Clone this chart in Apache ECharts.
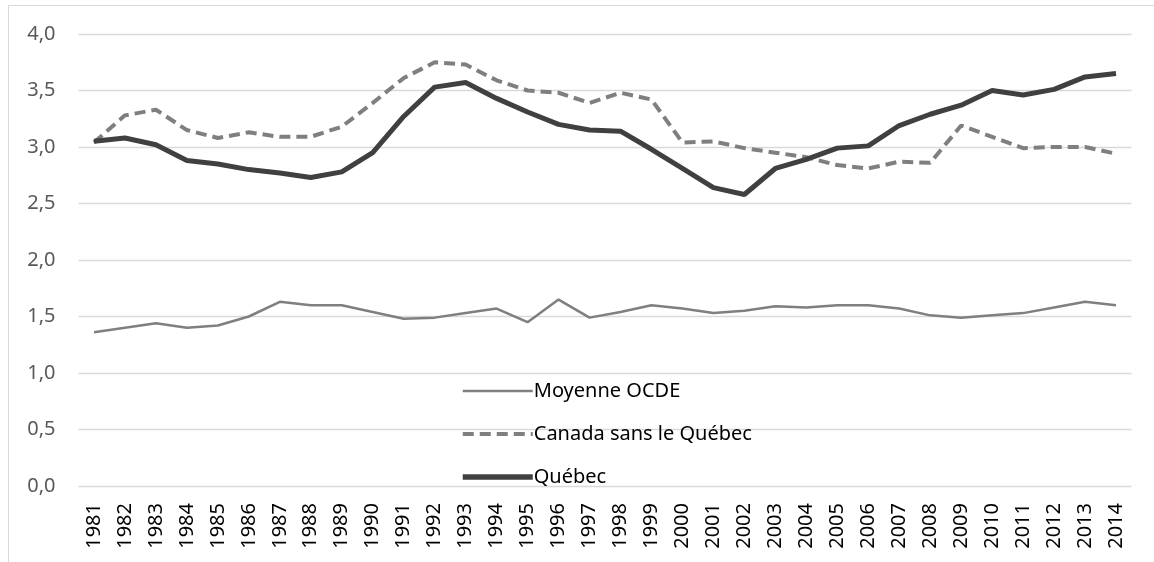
<!DOCTYPE html>
<html><head><meta charset="utf-8">
<script src="https://cdn.jsdelivr.net/npm/echarts@6/dist/echarts.min.js"></script>
<style>
html,body{margin:0;padding:0;background:#fff;overflow:hidden;}
#frame{position:absolute;left:8px;top:5px;width:1200px;height:600px;border:1px solid #d9d9d9;}
#c{position:absolute;left:0;top:0;width:1154px;height:562px;}
</style></head>
<body><div id="frame"></div><div id="c"></div>
<script>
const years = ['1981','1982','1983','1984','1985','1986','1987','1988','1989','1990','1991','1992','1993','1994','1995','1996','1997','1998','1999','2000','2001','2002','2003','2004','2005','2006','2007','2008','2009','2010','2011','2012','2013','2014'];
const ocde = [1.36,1.40,1.44,1.40,1.42,1.50,1.63,1.60,1.60,1.54,1.48,1.49,1.53,1.57,1.45,1.65,1.49,1.54,1.60,1.57,1.53,1.55,1.59,1.58,1.60,1.60,1.57,1.51,1.49,1.51,1.53,1.58,1.63,1.60];
const canada = [3.04,3.28,3.33,3.15,3.08,3.13,3.09,3.09,3.18,3.39,3.61,3.75,3.73,3.59,3.50,3.48,3.39,3.48,3.42,3.04,3.05,2.99,2.95,2.91,2.84,2.81,2.87,2.86,3.19,3.09,2.99,3.00,3.00,2.94];
const quebec = [3.05,3.08,3.02,2.88,2.85,2.80,2.77,2.73,2.78,2.95,3.27,3.53,3.57,3.43,3.31,3.20,3.15,3.14,2.98,2.81,2.64,2.58,2.81,2.89,2.99,3.01,3.19,3.29,3.37,3.50,3.46,3.51,3.62,3.65];
const seriesNames = ['Moyenne OCDE','Canada sans le Québec','Québec'];

const chart = echarts.init(document.getElementById('c'));
const font = '"Noto Sans", "Open Sans", sans-serif';
chart.setOption({
  animation:false,
  textStyle:{fontFamily:font},
  grid:{left:78.5,right:22.5,top:34,bottom:76,containLabel:false},
  legend:{
    orient:'vertical', left:455, top:376, itemWidth:70, itemHeight:20, itemGap:23,
    itemStyle:{opacity:0},
    textStyle:{fontSize:20,color:'#000',fontFamily:font,padding:[0,0,0,-4]},
    data:[
      {name:seriesNames[0], lineStyle:{width:2.5,color:'#7f7f7f'}},
      {name:seriesNames[1], lineStyle:{width:4,color:'#7f7f7f',type:[11,6]}},
      {name:seriesNames[2], lineStyle:{width:5.5,color:'#404040'}}
    ]
  },
  xAxis:{
    type:'category', data:years, boundaryGap:true,
    axisLine:{show:false}, axisTick:{show:false},
    axisLabel:{rotate:90,fontSize:20,color:'#000',margin:17,interval:0,fontFamily:font}
  },
  yAxis:{
    type:'value', min:0, max:4, interval:0.5,
    axisLine:{show:false}, axisTick:{show:false},
    splitLine:{lineStyle:{color:'#d9d9d9',width:1.3}},
    axisLabel:{fontSize:20,color:'#595959',margin:23,fontFamily:font,
      formatter:v=>v.toFixed(1).replace('.',',')}
  },
  series:[
    {name:seriesNames[0],type:'line',data:ocde,symbol:'none',
      lineStyle:{color:'#7f7f7f',width:2.5},itemStyle:{color:'#7f7f7f'}},
    {name:seriesNames[1],type:'line',data:canada,symbol:'none',
      lineStyle:{color:'#7f7f7f',width:4,type:[11,6]},itemStyle:{color:'#7f7f7f'}},
    {name:seriesNames[2],type:'line',data:quebec,symbol:'none',
      lineStyle:{color:'#404040',width:5},itemStyle:{color:'#404040'}}
  ]
});
</script></body></html>
